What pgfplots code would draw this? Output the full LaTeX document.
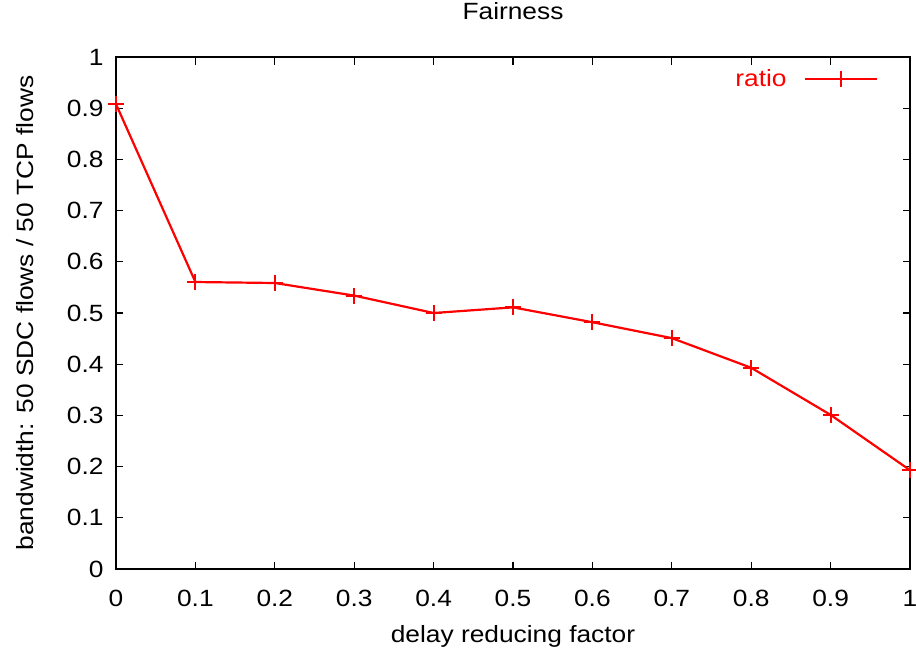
\documentclass[border=0pt]{standalone}
\usepackage{fontspec}
\setmainfont{Liberation Sans}[FakeStretch=1.12]
\usepackage{pgfplots}
\pgfplotsset{compat=1.18}
\newcommand{\gfont}{\fontsize{23.5pt}{28pt}\selectfont}
\begin{document}
\begin{tikzpicture}[font=\gfont]
\path[use as bounding box] (-116pt,-80pt) rectangle (800pt,569pt);
\begin{axis}[
  at={(0pt,0pt)}, anchor=south west,
  scale only axis, width=794pt, height=512pt,
  xmin=0, xmax=1, ymin=0, ymax=1,
  xtick={0,0.1,0.2,0.3,0.4,0.5,0.6,0.7,0.8,0.9,1},
  ytick={0,0.1,0.2,0.3,0.4,0.5,0.6,0.7,0.8,0.9,1},
  xticklabels={0,0.1,0.2,0.3,0.4,0.5,0.6,0.7,0.8,0.9,1},
  yticklabels={0,0.1,0.2,0.3,0.4,0.5,0.6,0.7,0.8,0.9,1},
  /pgf/number format/assume math mode=true,
  tick align=inside, major tick length=7.5pt,
  axis line style={line width=1.5pt},
  every tick/.style={black, line width=1.1pt},
  tick label style={font=\gfont},
  xticklabel style={anchor=base, yshift=-37pt},
  yticklabel style={anchor=east, xshift=-9pt},
  label style={font=\gfont},
  title={Fairness},
  title style={at={(axis description cs:0.5,1)}, anchor=base, yshift=31pt, font=\gfont},
  xlabel={delay reducing factor},
  xlabel style={at={(axis description cs:0.5,0)}, anchor=base, yshift=-73pt},
  ylabel={bandwidth: 50 SDC flows / 50 TCP flows},
  ylabel style={at={(axis description cs:-0.10453,0.5)}, anchor=base, rotate=0},
  legend plot pos=right,
  legend style={draw=none, fill=none, at={(axis description cs:0.9597,0.9570)}, anchor=east,
    inner sep=0pt, nodes={inner sep=0pt}, text=red, font=\gfont,
    /tikz/every odd column/.append style={column sep=17pt}},
  legend image code/.code={\draw[#1, mark repeat=2, mark phase=2] plot coordinates {(0pt,0pt) (36pt,0pt) (72pt,0pt)};},
  clip=false,
]
\addplot[red, line width=2.2pt, mark=+, mark size=8pt, mark options={line width=2pt}] coordinates {
(0,0.908) (0.1,0.5605) (0.2,0.5586) (0.3,0.534) (0.4,0.500) (0.5,0.511) (0.6,0.482) (0.7,0.451) (0.8,0.393) (0.9,0.301) (1.0,0.193)
};
\addlegendentry{ratio}
\end{axis}
\end{tikzpicture}
\end{document}
